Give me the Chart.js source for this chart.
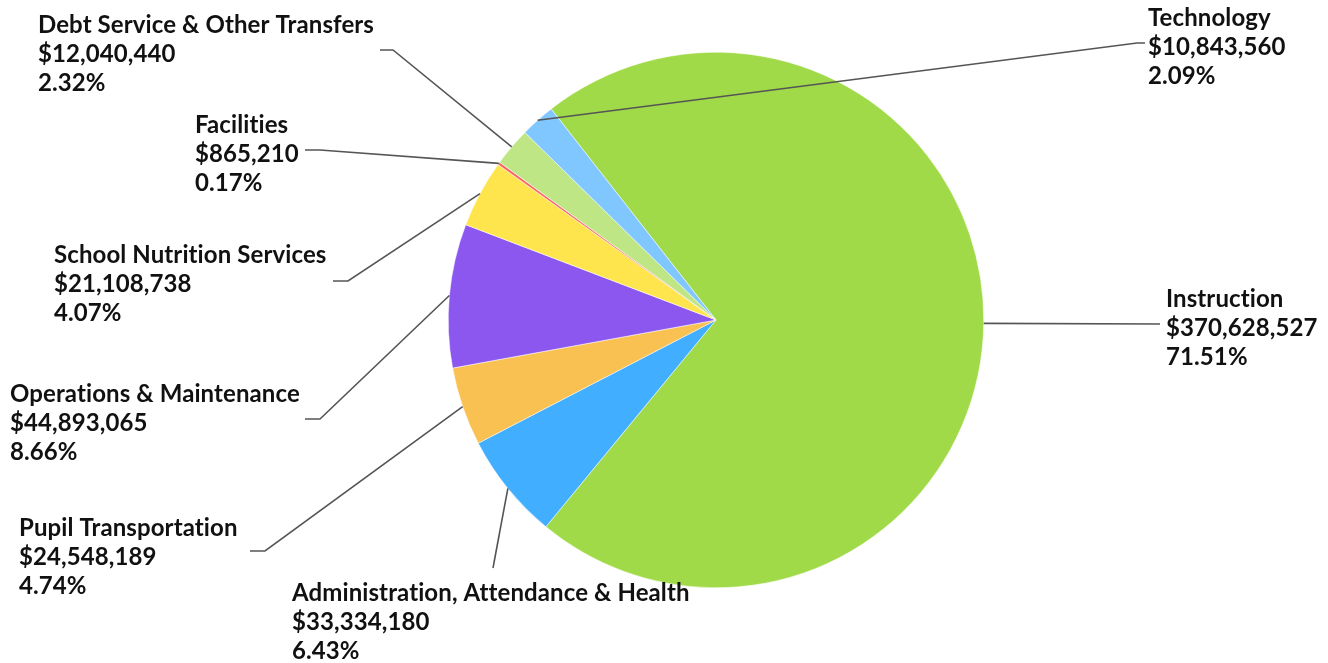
<!DOCTYPE html>
<html>
<head>
<meta charset="utf-8">
<script src="https://cdn.jsdelivr.net/npm/chart.js@4"></script>
<style>
  html, body { margin: 0; padding: 0; background: #fff; }
  #wrap { width: 1328px; height: 663px; position: relative; }
</style>
</head>
<body>
<div id="wrap"><canvas id="chart"></canvas></div>
<script>
// data
const categories = [
  'Instruction',
  'Administration, Attendance & Health',
  'Pupil Transportation',
  'Operations & Maintenance',
  'School Nutrition Services',
  'Facilities',
  'Debt Service & Other Transfers',
  'Technology',
];
const amounts = [370628527, 33334180, 24548189, 44893065, 21108738, 865210, 12040440, 10843560];
const colors = ['#A0DA48', '#42AEFF', '#F9C152', '#8B57EE', '#FEE44D', '#F86565', '#BFE685', '#80C6FF'];

// label placement: text block top-left, elbow point, line end
const labelLayout = [
  { x: 1166, y: 299, end: [1160, 324] },
  { x: 292, y: 593, end: [493, 568] },
  { x: 19, y: 528, elbow: [265, 551], end: [250, 551] },
  { x: 10, y: 394, elbow: [320, 419], end: [305, 419] },
  { x: 54, y: 255, elbow: [348, 281], end: [333, 281] },
  { x: 195, y: 125, elbow: [320, 150], end: [305, 150] },
  { x: 38, y: 25, elbow: [393, 50], end: [380, 50] },
  { x: 1148, y: 18, elbow: [1137, 43], end: [1145, 43] },
];

const total = amounts.reduce((a, b) => a + b, 0);
const fmtMoney = v => '$' + v.toLocaleString('en-US');
const fmtPct = v => (v / total * 100).toFixed(2) + '%';

const calloutPlugin = {
  id: 'callouts',
  afterDatasetsDraw(chart) {
    const ctx = chart.ctx;
    const meta = chart.getDatasetMeta(0);
    ctx.save();
    meta.data.forEach((arc, i) => {
      const lay = labelLayout[i];
      const mid = (arc.startAngle + arc.endAngle) / 2;
      const sx = arc.x + Math.cos(mid) * arc.outerRadius;
      const sy = arc.y + Math.sin(mid) * arc.outerRadius;
      ctx.strokeStyle = '#555';
      ctx.lineWidth = 1.6;
      ctx.beginPath();
      ctx.moveTo(sx, sy);
      if (lay.elbow) ctx.lineTo(lay.elbow[0], lay.elbow[1]);
      ctx.lineTo(lay.end[0], lay.end[1]);
      ctx.stroke();

      ctx.fillStyle = '#111';
      ctx.font = 'bold 24px Lato, "Open Sans", sans-serif';
      ctx.letterSpacing = '0.1px';
      ctx.textBaseline = 'middle';
      ctx.textAlign = 'left';
      const lines = [categories[i], fmtMoney(amounts[i]), fmtPct(amounts[i])];
      lines.forEach((t, k) => ctx.fillText(t, lay.x, lay.y + k * 29));
    });
    ctx.restore();
  },
};

new Chart(document.getElementById('chart'), {
  type: 'pie',
  data: {
    labels: categories,
    datasets: [{
      data: amounts,
      backgroundColor: colors,
      borderColor: '#fff',
      borderWidth: 0.5,
    }],
  },
  options: {
    responsive: true,
    maintainAspectRatio: false,
    animation: false,
    rotation: -38,
    layout: { padding: { left: 448, right: 344, top: 52, bottom: 75 } },
    plugins: {
      legend: { display: false },
      tooltip: { enabled: false },
    },
  },
  plugins: [calloutPlugin],
});
</script>
</body>
</html>
